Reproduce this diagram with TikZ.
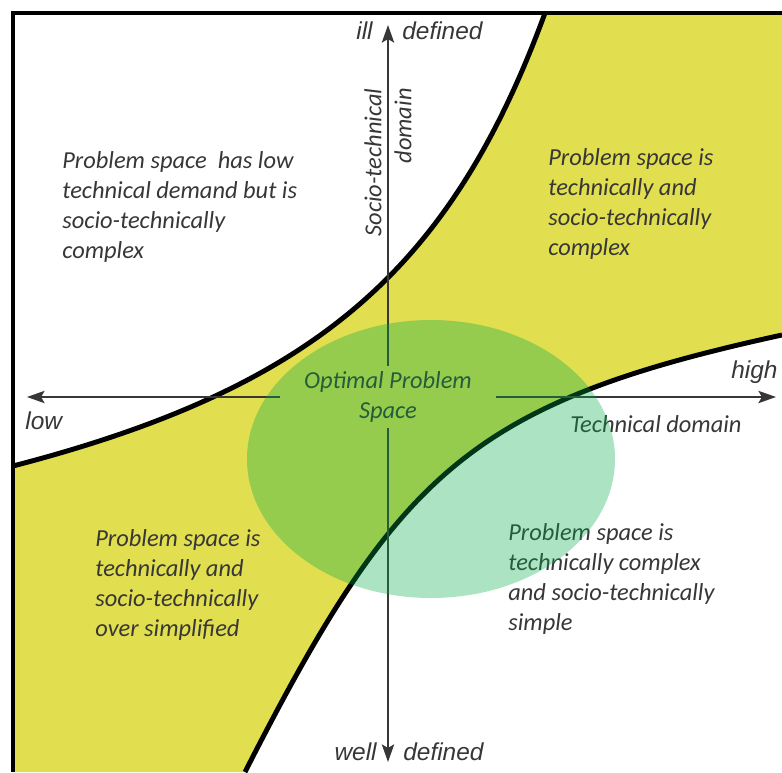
\documentclass[tikz,border=0pt]{standalone}
\usepackage{fontspec}
\setmainfont{Carlito}
\newfontfamily\arialfont{Liberation Sans}
\usetikzlibrary{arrows.meta}

\definecolor{quadyellow}{RGB}{225,222,80}
\definecolor{optgreen}{RGB}{0,170,72}
\definecolor{inkgray}{RGB}{55,55,55}

\tikzset{
  boundary/.style={line width=2.8pt, black},
  axis/.style={line width=1.1pt, inkgray, -{Stealth[length=10pt,width=7pt,inset=2pt]}},
  quadtext/.style={anchor=west, align=left, inner sep=0pt, text=inkgray,
    font=\fontsize{13.9pt}{17.1pt}\selectfont\itshape},
  endlabel/.style={inner sep=0pt, text=inkgray,
    font=\arialfont\fontsize{13.9pt}{17pt}\selectfont\itshape},
}

\begin{document}
\begin{tikzpicture}[x=0.02cm,y=-0.02cm]
  \useasboundingbox (0,0) rectangle (782,772);

  % yellow band between the two boundaries
  \fill[quadyellow] (13,466) .. controls (313,388) and (450,272) .. (545,13)
    -- (782,13) -- (782,335) .. controls (470,403) and (398,472) .. (245,772)
    -- (13,772) -- cycle;

  \draw[boundary] (13,466) .. controls (313,388) and (450,272) .. (545,13);
  \draw[boundary] (782,335) .. controls (470,403) and (398,472) .. (245,772);
  \draw[boundary,line join=miter] (13,772) -- (13,13) -- (782,13);

  % axes
  \node[quadtext,anchor=center,align=center,minimum width=122pt,minimum height=35pt] (opt) at (388,397) {Optimal Problem\\Space};
  \coordinate (lowtip) at (27,397);
  \coordinate (hightip) at (776,397);
  \coordinate (illtip) at (388,25);
  \coordinate (welltip) at (388,762);

  \draw[axis] (opt.west) -- (lowtip);
  \draw[axis] (opt.east) -- (hightip);
  \draw[axis] (opt.north) -- (illtip);
  \draw[axis] (opt.south) -- (welltip);

  \node[endlabel,anchor=east] (ill) at (373,31) {ill};
  \node[endlabel,anchor=west] (illdef) at (402,31) {defined};
  \node[endlabel,anchor=east] (well) at (377,752) {well};
  \node[endlabel,anchor=west] (welldef) at (403,752) {defined};
  \node[endlabel,anchor=west] (low) at (25,421) {low};
  \node[endlabel,anchor=west] (high) at (731,372) {high};
  \node[quadtext] (techdom) at (570,424) {Technical domain};
  \node[quadtext,rotate=90,anchor=east,align=right] (socio) at (388,88) {Socio-technical\\domain};

  % quadrant descriptions
  \node[quadtext] (tl) at (62,207) {Problem space~ has low\\technical demand but is\\socio-technically\\complex};
  \node[quadtext] (tr) at (548,204) {Problem space is\\technically and\\socio-technically\\complex};
  \node[quadtext] (bl) at (95,585) {Problem space is\\technically and\\socio-technically\\over simplified};
  \node[quadtext] (br) at (508,579) {Problem space is\\technically complex\\and socio-technically\\simple};

  % optimal region
  \fill[optgreen,fill opacity=0.33] (431,459) ellipse [x radius=184, y radius=139];
\end{tikzpicture}
\end{document}
